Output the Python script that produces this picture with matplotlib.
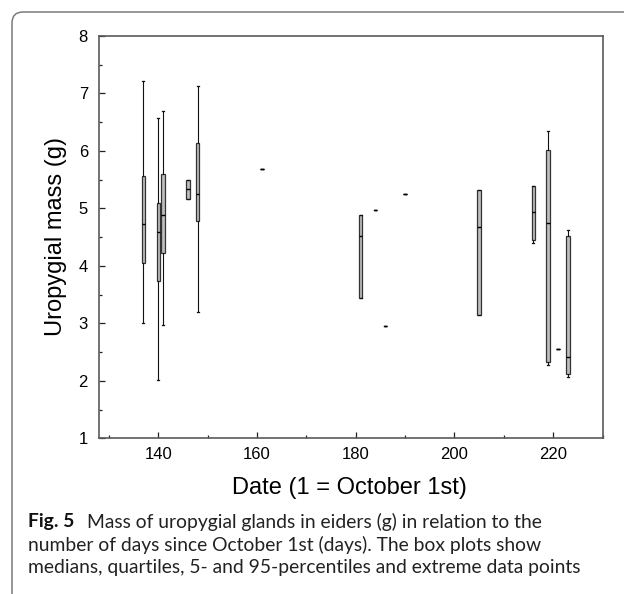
import matplotlib
matplotlib.use("Agg")
import matplotlib.pyplot as plt
from matplotlib.ticker import MultipleLocator
from matplotlib.patches import FancyBboxPatch

# box plot values (day since Oct 1st, mass in g)
days = [137, 140, 141, 146, 148, 161, 181, 184, 186, 190, 205, 216, 219, 221, 223]
low = [3.00, 2.02, 2.97, 5.17, 3.20, 5.69, 3.44, 4.97, 2.96, 5.24, 3.15, 4.39, 2.28, 2.55, 2.06]
q1 = [4.05, 3.74, 4.22, 5.17, 4.78, 5.69, 3.44, 4.97, 2.96, 5.24, 3.15, 4.45, 2.33, 2.55, 2.12]
med = [4.72, 4.58, 4.89, 5.34, 5.25, 5.69, 4.52, 4.97, 2.96, 5.24, 4.67, 4.94, 4.75, 2.55, 2.42]
q3 = [5.56, 5.09, 5.60, 5.49, 6.13, 5.69, 4.89, 4.97, 2.96, 5.24, 5.32, 5.38, 6.01, 2.55, 4.52]
high = [7.21, 6.57, 6.69, 5.49, 7.13, 5.69, 4.89, 4.97, 2.96, 5.24, 5.32, 5.38, 6.34, 2.55, 4.63]

caption = [
    "number of days since October 1st (days). The box plots show",
    "medians, quartiles, 5- and 95-percentiles and extreme data points",
]

plt.rcParams['font.family'] = ['Liberation Sans', 'DejaVu Sans']

W, H = 624, 594
fig = plt.figure(figsize=(W / 100, H / 100), dpi=100)

# the card border around the figure
card = FancyBboxPatch((12 / 100, -1.0), 8.0, (H - 12) / 100 + 1.0,
                      boxstyle="round,pad=0,rounding_size=0.11",
                      transform=fig.dpi_scale_trans, fill=False,
                      edgecolor="#7a7a7a", linewidth=1.1)
fig.patches.append(card)

ax = fig.add_axes([99 / W, 1 - 438.3 / H, (602.5 - 99) / W, (438.3 - 35.8) / H])

stats = []
for i in range(len(days)):
    stats.append({"whislo": low[i], "q1": q1[i], "med": med[i],
                  "q3": q3[i], "whishi": high[i], "fliers": []})

ax.bxp(stats, positions=days, widths=0.7, capwidths=0.4, patch_artist=True,
       showfliers=False, manage_ticks=False,
       boxprops=dict(facecolor="#bdbdbd", edgecolor="#333333", linewidth=0.9),
       medianprops=dict(color="black", linewidth=1.0),
       whiskerprops=dict(color="#111111", linewidth=0.8),
       capprops=dict(color="#111111", linewidth=0.9))

ax.set_xlim(128, 230)
ax.set_ylim(1, 8)
ax.xaxis.set_major_locator(MultipleLocator(20))
ax.xaxis.set_minor_locator(MultipleLocator(10))
ax.yaxis.set_major_locator(MultipleLocator(1))
ax.yaxis.set_minor_locator(MultipleLocator(0.5))
ax.tick_params(which="both", direction="in", top=False, right=False,
               color="#222222", width=0.9)
ax.tick_params(which="major", length=4.5, labelsize=12)
ax.tick_params(which="minor", length=2.2)
ax.tick_params(axis="x", which="major", pad=6.5)
ax.tick_params(axis="y", which="major", pad=8)
for s in ax.spines.values():
    s.set_color("#5a5a5a")
    s.set_linewidth(1.2)

fig.text(349 / W, 1 - 488 / H, "Date (1 = October 1st)", ha="center",
         va="center", fontsize=17)
fig.text(56 / W, 1 - 236 / H, "Uropygial mass (g)", ha="center",
         va="center", rotation=90, fontsize=17)

# caption, sized so the longest line fits its width in the reference
cap_font = ["Lato", "DejaVu Sans"]
x0 = 27.7 / W
ys = [521.7, 545, 567.7]
t3 = fig.text(x0, 1 - ys[2] / H, caption[1], family=cap_font, fontsize=11,
              va="center", color="#222222")
fig.canvas.draw()
r = fig.canvas.get_renderer()
size = 11 * (581 - 27.7) / t3.get_window_extent(r).width
t3.set_fontsize(size)
fig.text(x0, 1 - ys[1] / H, caption[0], family=cap_font, fontsize=size,
         va="center", color="#222222")
tb = fig.text(x0, 1 - ys[0] / H, "Fig. 5", family=cap_font, fontsize=size,
              weight="bold", va="center", color="#111111")
fig.canvas.draw()
xb = tb.get_window_extent(r).x1
fig.text((xb + 13) / W, 1 - ys[0] / H,
         "Mass of uropygial glands in eiders (g) in relation to the",
         family=cap_font, fontsize=size, va="center", color="#222222")

fig.savefig("out.png", dpi=100)
